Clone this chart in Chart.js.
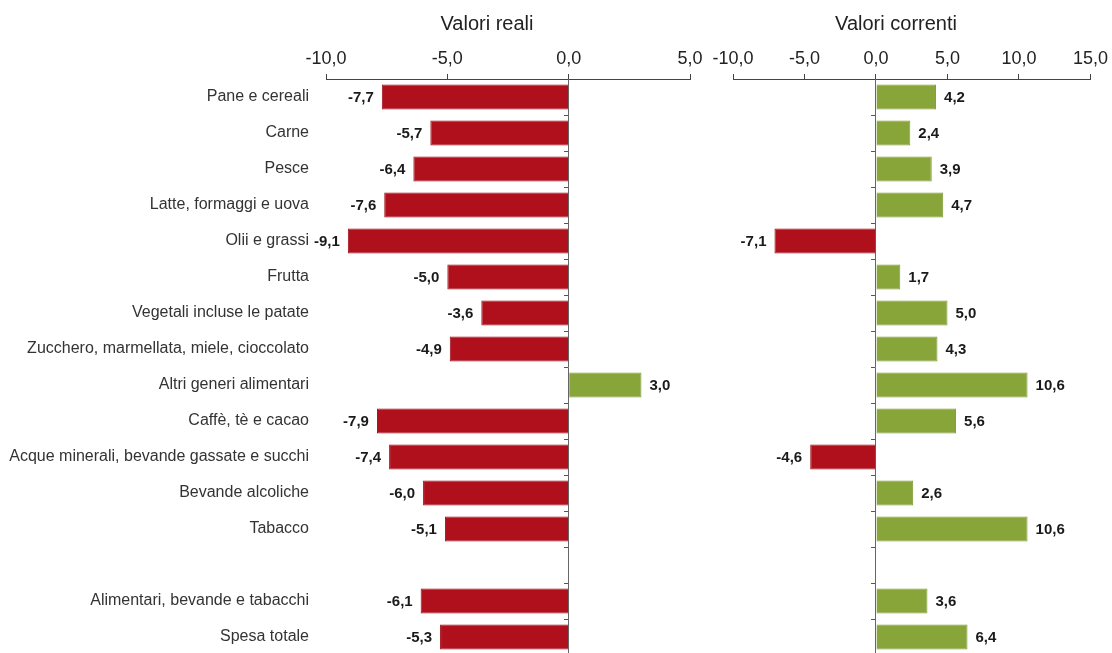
<!DOCTYPE html>
<html>
<head>
<meta charset="utf-8">
<script src="https://cdn.jsdelivr.net/npm/chart.js@4"></script>
<style>
  html, body { margin: 0; padding: 0; background: #fff; overflow: hidden; }
  #wrap { position: relative; width: 1112px; height: 653px; }
  canvas { position: absolute; top: 0; }
  #reali { left: 0; }
  #correnti { left: 680px; }
</style>
</head>
<body>
<div id="wrap">
  <canvas id="reali"></canvas>
  <canvas id="correnti"></canvas>
</div>
<script>
const CATEGORIES = [
  "Pane e cereali",
  "Carne",
  "Pesce",
  "Latte, formaggi e uova",
  "Olii e grassi",
  "Frutta",
  "Vegetali incluse le patate",
  "Zucchero, marmellata, miele, cioccolato",
  "Altri generi alimentari",
  "Caffè, tè e cacao",
  "Acque minerali, bevande gassate e succhi",
  "Bevande alcoliche",
  "Tabacco",
  "",
  "Alimentari, bevande e tabacchi",
  "Spesa totale",
];

const VALORI_REALI = [-7.7, -5.7, -6.4, -7.6, -9.1, -5.0, -3.6, -4.9, 3.0, -7.9, -7.4, -6.0, -5.1, null, -6.1, -5.3];
const VALORI_CORRENTI = [4.2, 2.4, 3.9, 4.7, -7.1, 1.7, 5.0, 4.3, 10.6, 5.6, -4.6, 2.6, 10.6, null, 3.6, 6.4];

const REALI_TICKS = [-10, -5, 0, 5];
const CORRENTI_TICKS = [-10, -5, 0, 5, 10, 15];

const RED = "#b0101c";
const GREEN = "#88a53a";
const FONT = "'Liberation Sans', Arial, sans-serif";

const fmt = (v) => v.toFixed(1).replace(".", ",");

// value labels at the end of each bar
const barLabels = {
  id: "barLabels",
  afterDatasetsDraw(chart) {
    const { ctx } = chart;
    const meta = chart.getDatasetMeta(0);
    const values = chart.data.datasets[0].data;
    ctx.save();
    ctx.font = "bold 15px " + FONT;
    ctx.fillStyle = "#1a1a1a";
    ctx.textBaseline = "middle";
    meta.data.forEach((bar, i) => {
      const v = values[i];
      if (v === null) return;
      if (v < 0) {
        ctx.textAlign = "right";
        ctx.fillText(fmt(v), bar.x - 8, bar.y + 1);
      } else {
        ctx.textAlign = "left";
        ctx.fillText(fmt(v), bar.x + 8, bar.y + 1);
      }
    });
    ctx.restore();
  },
};

function makeChart(id, title, values, ticks, canvasW, areaLeft, areaRight, showLabels) {
  const canvas = document.getElementById(id);
  canvas.width = canvasW;
  canvas.height = 660;
  canvas.style.width = canvasW + "px";
  canvas.style.height = "660px";

  return new Chart(canvas.getContext("2d"), {
    type: "bar",
    data: {
      labels: CATEGORIES,
      datasets: [
        {
          data: values,
          backgroundColor: values.map((v) => (v < 0 ? RED : GREEN)),
          borderColor: values.map((v) => (v < 0 ? "#a00e18" : "#7f9a33")),
          borderWidth: 1,
          barPercentage: 0.7,
          categoryPercentage: 1,
        },
      ],
    },
    options: {
      indexAxis: "y",
      responsive: false,
      animation: false,
      layout: {
        padding: { left: 0, right: 0, top: 0, bottom: 5 },
      },
      plugins: {
        legend: { display: false },
        tooltip: { enabled: false },
        title: {
          display: true,
          text: title,
          color: "#222",
          font: { family: FONT, size: 20, weight: "normal" },
          padding: { top: 12, bottom: 3 },
        },
      },
      scales: {
        x: {
          position: "top",
          min: ticks[0],
          max: ticks[ticks.length - 1],
          afterBuildTicks: (scale) => {
            scale.ticks = ticks.map((v) => ({ value: v }));
          },
          afterFit: (scale) => {
            scale.height = 40;
          },
          ticks: {
            color: "#222",
            font: { family: FONT, size: 18 },
            padding: 4,
            callback: (v) => fmt(v),
          },
          grid: { drawOnChartArea: false, tickLength: 5, color: "#444" },
          border: { display: true, color: "#444", width: 1 },
        },
        y: {
          display: showLabels,
          offset: true,
          afterFit: (scale) => {
            scale.width = areaLeft;
            scale.paddingTop = 0;
            scale.paddingBottom = 0;
          },
          ticks: {
            color: "#333",
            font: { family: FONT, size: 16 },
            padding: 9,
          },
          grid: { display: false },
          border: { display: false },
        },
        // empty room right of the plot, so the title stays centred on the canvas
        yr: {
          type: "category",
          position: "right",
          display: false,
          afterFit: (scale) => {
            scale.width = canvasW - areaRight;
          },
        },
        y2: {
          type: "category",
          position: { x: 0 },
          offset: true,
          afterFit: (scale) => {
            scale.width = 0;
            scale.paddingTop = 0;
            scale.paddingBottom = 0;
          },
          ticks: { display: false },
          grid: { offset: true, drawOnChartArea: false, tickLength: 4, color: "#555" },
          border: { display: true, color: "#666", width: 1 },
        },
      },
    },
    plugins: [barLabels],
  });
}

makeChart("reali", "Valori reali", VALORI_REALI, REALI_TICKS, 974, 326, 690, true);
makeChart("correnti", "Valori correnti", VALORI_CORRENTI, CORRENTI_TICKS, 432, 53, 412, false);
</script>
</body>
</html>
